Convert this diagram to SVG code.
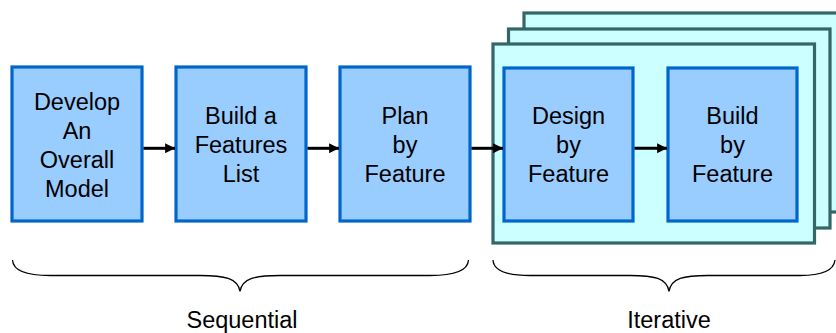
<svg xmlns="http://www.w3.org/2000/svg" width="836" height="333" viewBox="0 0 836 333">
  <style>
    .step { fill: #99CCFF; stroke: #0066CC; stroke-width: 3.2; }
    .frame { fill: #CCFFFF; stroke: #336666; stroke-width: 3.2; }
    .label { font-family: "Liberation Sans", Arial, sans-serif; font-size: 23.5px; fill: #000; text-anchor: middle; }
    .link { stroke: #000; stroke-width: 3; fill: none; marker-end: url(#head); }
    .brace { stroke: #000; stroke-width: 1.3; fill: none; }
  </style>
  <defs>
    <marker id="head" viewBox="0 0 10 10" refX="10" refY="5" markerWidth="3.3" markerHeight="3.3" markerUnits="strokeWidth" orient="auto">
      <path d="M0,0 L10,5 L0,10 z" fill="#000"/>
    </marker>
  </defs>

  <rect width="836" height="333" fill="#fff"/>

  <!-- stacked iteration frames -->
  <g id="iteration-frames">
    <rect class="frame" x="524" y="13" width="330" height="199"/>
    <rect class="frame" x="508.5" y="29" width="321.5" height="199"/>
    <rect class="frame" x="493" y="44" width="321.5" height="199"/>
  </g>

  <g id="develop-model">
    <rect class="step" x="12" y="67" width="130" height="154"/>
    <text class="label" x="77" y="110">Develop</text>
    <text class="label" x="77" y="139">An</text>
    <text class="label" x="77" y="168">Overall</text>
    <text class="label" x="77" y="196.5">Model</text>
  </g>

  <g id="build-features-list">
    <rect class="step" x="176" y="67" width="130" height="154"/>
    <text class="label" x="241" y="124">Build a</text>
    <text class="label" x="241" y="153">Features</text>
    <text class="label" x="241" y="182">List</text>
  </g>

  <g id="plan-by-feature">
    <rect class="step" x="340" y="67" width="130" height="154"/>
    <text class="label" x="405" y="124">Plan</text>
    <text class="label" x="405" y="153">by</text>
    <text class="label" x="405" y="182">Feature</text>
  </g>

  <g id="design-by-feature">
    <rect class="step" x="504" y="68" width="129" height="153"/>
    <text class="label" x="568.5" y="124">Design</text>
    <text class="label" x="568.5" y="153">by</text>
    <text class="label" x="568.5" y="182">Feature</text>
  </g>

  <g id="build-by-feature">
    <rect class="step" x="668" y="68" width="129" height="153"/>
    <text class="label" x="732.5" y="124">Build</text>
    <text class="label" x="732.5" y="153">by</text>
    <text class="label" x="732.5" y="182">Feature</text>
  </g>

  <g id="connectors">
    <line class="link" x1="143.5" y1="148.3" x2="175" y2="148.3"/>
    <line class="link" x1="307.5" y1="148.3" x2="339" y2="148.3"/>
    <line class="link" x1="471.5" y1="148.3" x2="503" y2="148.3"/>
    <line class="link" x1="634.5" y1="148.3" x2="667" y2="148.3"/>
  </g>

  <g id="sequential-brace">
    <path class="brace" d="M12.5,260 C13,270 25,275.5 50,275.5 L200,275.5 C224,275.5 238,278 240,291.5 C242,278 256,275.5 280,275.5 L430,275.5 C455,275.5 468,270 468.5,260"/>
    <text class="label" x="242" y="328">Sequential</text>
  </g>

  <g id="iterative-brace">
    <path class="brace" d="M493,260 C493.5,270 506,275.5 530,275.5 L630,275.5 C654,275.5 667,278 669,291.5 C671,278 684,275.5 708,275.5 L800,275.5 C822,275.5 834,270 835,260"/>
    <text class="label" x="669" y="328">Iterative</text>
  </g>
</svg>
